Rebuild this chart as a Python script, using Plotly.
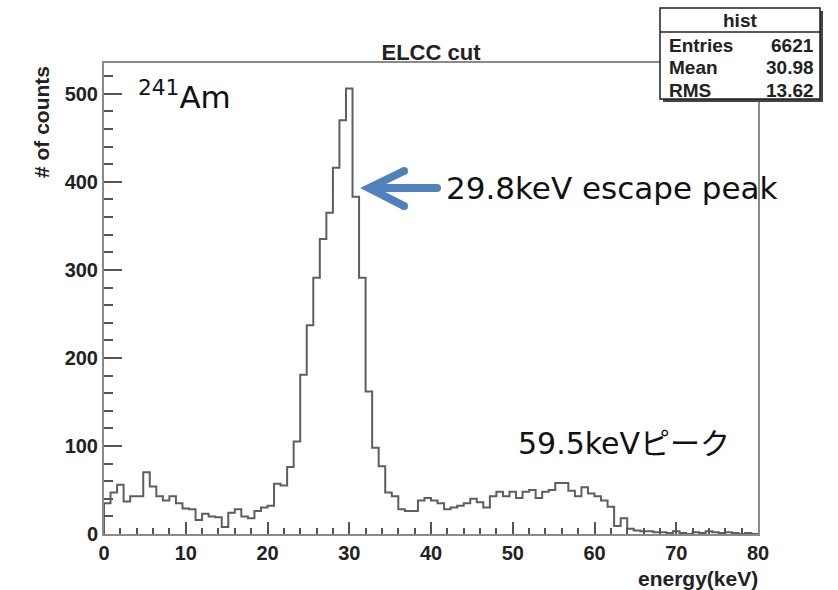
import numpy as np
import plotly.graph_objects as go

# ---------------- data ----------------
bin_width = 0.8          # keV, 100 bins from 0 to 80 keV
counts = [
    35, 47, 56, 37, 43, 43, 70, 54, 43, 38,
    43, 35, 29, 28, 16, 23, 20, 19, 8, 24,
    28, 20, 18, 26, 30, 32, 57, 55, 76, 105,
    181, 237, 291, 335, 365, 416, 470, 506, 383, 291,
    162, 98, 77, 47, 43, 28, 26, 26, 38, 41,
    38, 35, 28, 30, 32, 35, 40, 36, 30, 43,
    48, 43, 48, 41, 48, 50, 41, 48, 50, 58,
    58, 49, 43, 53, 46, 43, 38, 31, 9, 18,
    6, 4, 3, 3, 2, 2, 1, 3, 1, 0,
    2, 1, 3, 2, 1, 2, 1, 0, 1, 0,
]
x_ticks = [0, 10, 20, 30, 40, 50, 60, 70, 80]
y_ticks = [0, 100, 200, 300, 400, 500]
stats_labels = ["Entries", "Mean", "RMS"]
stats_values = ["6621", "30.98", "13.62"]
title_text = "ELCC cut"
x_title = "energy(keV)"
y_title = "# of counts"
peak_label = "29.8keV escape peak"
peak2_label = "59.5keVピーク"
source_label = "<sup>241</sup>Am"

# ---------------- geometry helpers (pixel -> paper) ----------------
W, H = 838, 590
ML, MR, MT, MB = 104, 80, 63, 56
PW, PH = W - ML - MR, H - MT - MB
def px(x):
    return (x - ML) / PW
def py(y):
    return (H - MB - y) / PH

edges = np.arange(len(counts) + 1) * bin_width
xs = np.concatenate([[0.0], edges])
ys = [0] + counts + [counts[-1]]

fig = go.Figure()
fig.add_trace(go.Scatter(
    x=xs.tolist(), y=ys, mode="lines", line=dict(shape="hv", color="#5e5e5e", width=2),
    hoverinfo="skip", showlegend=False))

tickfont = dict(family="Liberation Sans", size=20, color="#222", weight="bold")
axis_common = dict(showgrid=False, zeroline=False, showline=True, mirror=True,
                   linecolor="#8a8a8a", linewidth=2, ticks="inside",
                   tickcolor="#555", tickwidth=1.5, tickfont=tickfont, tickmode="array")

x_minor = [v for v in np.arange(0, 81, 2).tolist() if v % 10 != 0]
y_minor = [v for v in np.arange(0, 535, 20).tolist() if v % 100 != 0]

fig.update_xaxes(range=[0, 80], tickvals=x_ticks, ticktext=[str(v) for v in x_ticks], ticklen=12,
                 minor=dict(tickmode="array", tickvals=x_minor, ticklen=6, ticks="inside",
                            tickcolor="#555", tickwidth=1.5, showgrid=False),
                 **axis_common)
fig.update_yaxes(range=[0, 535], tickvals=y_ticks, ticktext=[str(v) for v in y_ticks], ticklen=18,
                 minor=dict(tickmode="array", tickvals=y_minor, ticklen=9, ticks="inside",
                            tickcolor="#555", tickwidth=1.5, showgrid=False),
                 **axis_common)

shapes = []
annotations = []

# stats box
shapes.append(dict(type="rect", xref="paper", yref="paper",
                   x0=px(663), x1=px(823), y0=py(102), y1=py(11),
                   fillcolor="#444", line=dict(width=0), layer="above"))
shapes.append(dict(type="rect", xref="paper", yref="paper",
                   x0=px(660), x1=px(820), y0=py(99), y1=py(8),
                   fillcolor="white", line=dict(color="#222", width=1.5), layer="above"))
shapes.append(dict(type="line", xref="paper", yref="paper",
                   x0=px(660), x1=px(820), y0=py(32), y1=py(32),
                   line=dict(color="#222", width=1.5), layer="above"))
statfont = dict(family="Liberation Sans", size=19, color="#222", weight="bold")
annotations.append(dict(text="hist", xref="paper", yref="paper", x=px(740), y=py(20),
                        xanchor="center", yanchor="middle", showarrow=False, font=statfont))
for i, (lab, val) in enumerate(zip(stats_labels, stats_values)):
    yy = py(45 + 22.5 * i)
    annotations.append(dict(text=lab, xref="paper", yref="paper", x=px(667), y=yy,
                            xanchor="left", yanchor="middle", showarrow=False, font=statfont))
    annotations.append(dict(text=val, xref="paper", yref="paper", x=px(816), y=yy,
                            xanchor="right", yanchor="middle", showarrow=False, font=statfont))

# axis titles
axfont = dict(family="Liberation Sans", size=21, color="#222", weight="bold")
annotations.append(dict(text=y_title, xref="paper", yref="paper", x=px(42), y=py(122),
                        textangle=-90, xanchor="center", yanchor="middle",
                        showarrow=False, font=axfont))
annotations.append(dict(text=x_title, xref="paper", yref="paper", x=px(760), y=py(578),
                        xanchor="right", yanchor="middle", showarrow=False, font=axfont))

# text labels
lblfont = dict(family="DejaVu Sans, Noto Sans CJK JP", size=31, color="#111")
annotations.append(dict(text=peak_label, xref="paper", yref="paper", x=px(444), y=py(188),
                        xanchor="left", yanchor="middle", showarrow=False, font=lblfont))
annotations.append(dict(text=peak2_label, xref="paper", yref="paper", x=px(516), y=py(443),
                        xanchor="left", yanchor="middle", showarrow=False,
                        font=dict(family="DejaVu Sans, Noto Sans CJK JP", size=30, color="#111")))
annotations.append(dict(text=source_label, xref="paper", yref="paper", x=px(136), y=py(95),
                        xanchor="left", yanchor="middle", showarrow=False,
                        font=dict(family="DejaVu Sans", size=31, color="#111")))

# arrow
ac = "#4f81bd"
tip = (369, 188)
path = "M {:.5f} {:.5f} L {:.5f} {:.5f} L {:.5f} {:.5f}".format(
    px(404), py(171), px(tip[0]), py(tip[1]), px(404), py(206))
shapes.append(dict(type="path", xref="paper", yref="paper", path=path,
                   line=dict(color=ac, width=8), layer="above"))
shapes.append(dict(type="line", xref="paper", yref="paper",
                   x0=px(372), x1=px(437), y0=py(188), y1=py(188),
                   line=dict(color=ac, width=8), layer="above"))
for (cx, cy) in [(437, 188), (404, 171), (404, 206)]:
    r = 4
    shapes.append(dict(type="circle", xref="paper", yref="paper",
                       x0=px(cx - r), x1=px(cx + r), y0=py(cy + r), y1=py(cy - r),
                       fillcolor=ac, line=dict(width=0), layer="above"))

fig.update_layout(
    width=W, height=H,
    margin=dict(l=ML, r=MR, t=MT, b=MB),
    paper_bgcolor="white", plot_bgcolor="white",
    title=dict(text=title_text, x=px(431) * PW / W + ML / W, xanchor="center",
               y=1 - 52 / H, yanchor="middle",
               font=dict(family="Liberation Sans", size=22, color="#222", weight="bold")),
    shapes=shapes, annotations=annotations, showlegend=False,
)

fig.write_html("out.html")
